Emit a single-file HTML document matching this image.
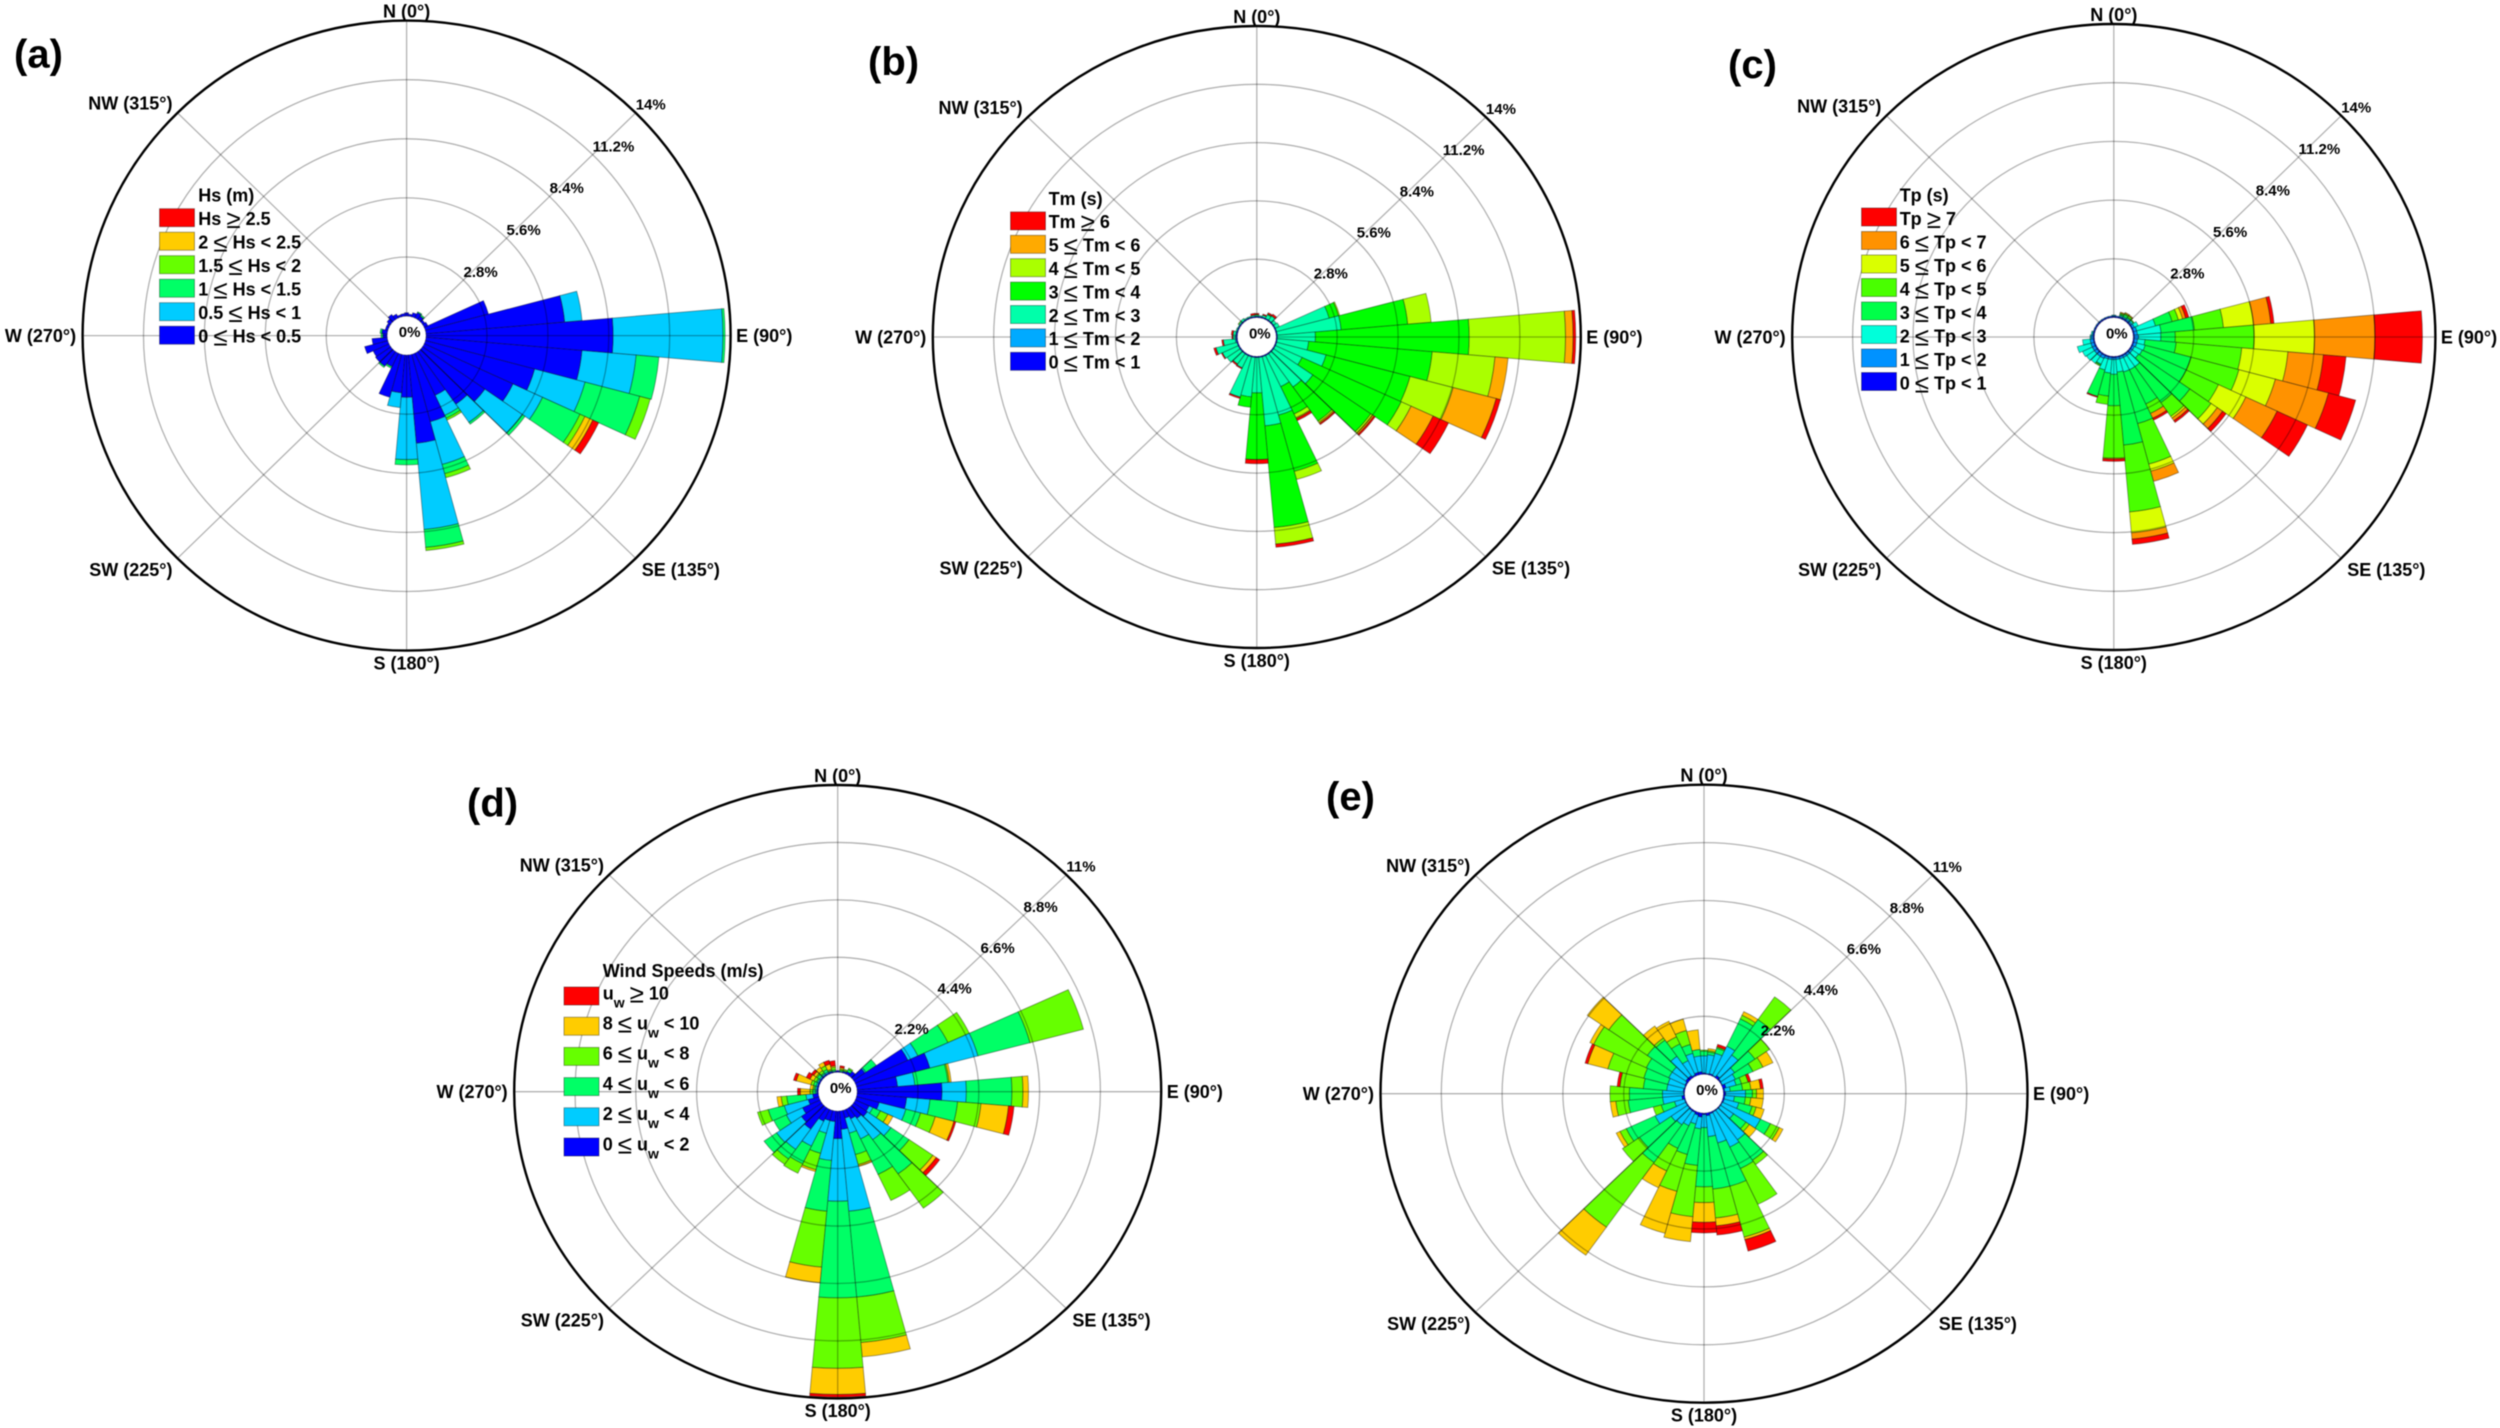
<!DOCTYPE html>
<html lang="en">
<head>
<meta charset="utf-8">
<title>Wave and wind roses</title>
<style>
html,body{margin:0;padding:0;background:#fff;}
svg{display:block;filter:blur(.45px);}
text{font-family:"Liberation Sans",sans-serif;font-weight:bold;fill:#000;white-space:pre;}
</style>
</head>
<body>
<svg id="chart" xmlns="http://www.w3.org/2000/svg" width="2500" height="1428" viewBox="0 0 2500 1428"></svg>
<script>
/* direction bins, degrees clockwise from north */
const directions = [0,10,20,30,40,50,60,70,80,90,100,110,120,130,140,150,160,170,180,190,200,210,220,230,240,250,260,270,280,290,300,310,320,330,340,350];
const compassLabels = ['N (0°)','NW (315°)','W (270°)','SW (225°)','S (180°)','SE (135°)','E (90°)'];
const waveTicks = ['2.8%','5.6%','8.4%','11.2%','14%'];
const waveTickValues = [2.8,5.6,8.4,11.2,14];
const windTicks = ['2.2%','4.4%','6.6%','8.8%','11%'];
const windTickValues = [2.2,4.4,6.6,8.8,11];

/* legend classes, top row first */
const hsClasses = ['Hs ≥ 2.5','2 ≤ Hs < 2.5','1.5 ≤ Hs < 2','1 ≤ Hs < 1.5','0.5 ≤ Hs < 1','0 ≤ Hs < 0.5'];
const tmClasses = ['Tm ≥ 6','5 ≤ Tm < 6','4 ≤ Tm < 5','3 ≤ Tm < 4','2 ≤ Tm < 3','1 ≤ Tm < 2','0 ≤ Tm < 1'];
const tpClasses = ['Tp ≥ 7','6 ≤ Tp < 7','5 ≤ Tp < 6','4 ≤ Tp < 5','3 ≤ Tp < 4','2 ≤ Tp < 3','1 ≤ Tp < 2','0 ≤ Tp < 1'];
const windClasses = ['u_w ≥ 10','8 ≤ u_w < 10','6 ≤ u_w < 8','4 ≤ u_w < 6','2 ≤ u_w < 4','0 ≤ u_w < 2'];

/* cumulative frequency (%) per direction, lowest class first */
const hsCumulative = [
[.16],[.1],[.2],[.28,.28,.32],[.2,.2,.27],[.12],[.18],[3.0],[6.4,7.2],[8.6,13.65,13.75],
[7.2,9.7,10.75],[5.2,7.6,10.2,10.7],[4.5,6.0,7.9,8.15,8.55,8.85],[3.5,5.6,5.75],[3.05,4.1,4.2],[2.2,3.25,3.4,3.5],[3.3,5.4,5.85,6.05],[4.2,8.3,9.15,9.3],
[2.0,4.95,5.2],[1.8,2.5],[2.1],[.7,.7,.78],[.85,.85,.92],[.85],[.8],[1.1],[.7],[.2,.2,.28],
[.25,.25,.33],[.12],[.12],[.2],[.3],[.2],[.1],[.12]];
const tmCumulative = [
[.05,.05,.12,.12,.15,.15,.2],[.05,.05,.1],[.05,.05,.15,.15,.15,.15,.2],[.05,.05,.25,.28,.28,.28,.35],[.05,.05,.3,.3,.3,.3,.4],[.05,.05,.2],[.05,.05,.25],[.05,.05,2.55,3.0,3.05],[.05,.05,3.0,6.07,7.15],[.05,.05,1.8,8.87,13.3,13.65,13.77],
[.05,.05,1.5,7.2,10.1,10.7],[.05,.05,2.4,6.4,8.45,10.5,10.7],[.05,.05,1.4,6.43,6.93,8.05,8.83],[.05,.05,2.25,5.5,5.6,5.68,5.75],[.05,.05,2.0,4.0,4.08,4.14,4.2],[.05,.05,1.7,3.15,3.35,3.4,3.5],[.05,.05,2.95,5.75,6.15],[.05,.05,3.35,8.25,9.05,9.05,9.2],
[.05,.05,1.75,4.95,4.95,4.95,5.15],[.05,.05,1.95,2.45],[.05,.05,2.05,2.05,2.05,2.05,2.12],[.05,.05,.7,.7,.7,.7,.75],[.05,.05,.65,.65,.65,.65,.72],[.05,.05,.78],[.05,.05,.85,.85,.85,.85,.9],[.05,.05,1.05,1.05,1.05,1.05,1.15],[.05,.1,.65,.65,.65,.65,.72],[.05,.1,.2,.2,.2,.2,.25],
[.05,.08,.2,.2,.2,.2,.28],[.05,.05,.1],[.05,.05,.08],[.05,.05,.12,.12,.15],[.05,.05,.15],[.05,.05,.1],[.05,.05,.1],[.05,.05,.12,.12,.12,.12,.2]];
const tpCumulative = [
[.05,.1,.12],[.05,.08],[.05,.1,.15,.2,.25,.27,.3],[.05,.1,.15,.25,.3,.33,.36],[.05,.12,.18,.22,.3,.32,.35],[.05,.12,.2,.22,.25],[.05,.15,.35],[.05,.2,1.1,1.9,2.2,2.4,2.55,2.7],[.05,.2,1.3,2.85,4.2,5.6,6.4,6.55],[.05,.25,1.28,1.95,5.6,8.4,11.2,13.4],
[.05,.2,.55,2.0,5.05,7.2,8.85,9.9],[.05,.2,.6,2.8,5.1,6.85,9.4,10.7],[.05,.15,.55,2.8,4.45,5.85,7.45,9.0],[.05,.15,.5,3.4,4.6,4.95,5.25,5.45],[.05,.15,.8,2.9,3.7,3.8,3.95,4.05],[.05,.15,.8,2.6,3.1,3.1,3.35,3.45],[.05,.15,.8,3.35,5.35,5.7,6.2],[.05,.15,.75,4.25,7.45,8.45,8.75,9.0],
[.05,.15,.85,2.35,4.85,4.85,4.9,5.0],[.05,.15,.8,1.9,2.3],[.05,.15,.7,2.0,2.0,2.0,2.0,2.05],[.05,.2,.5,.55,.6],[.05,.2,.6],[.05,.2,.65],[.05,.2,.7],[.05,.2,.85],[.05,.2,.55],[.05,.15,.2],
[.05,.1,.15],[.05,.08],[.05,.08],[.05,.08],[.05,.08],[.05,.08],[.05,.08],[.05,.08]];
const windCumulative = [
[.06],[.03,.03,.08,.12,.18,.25],[.06,.06,.1,.15],[.1,.1,.2,.25],[.2],[.5,.55,1.0],[2.1,2.5,3.7,4.55],[2.75,4.55,6.5,8.5],[1.47,2.1,3.3,3.35,3.42],[3.07,3.95,5.6,6.0,6.2],
[1.8,2.65,3.65,4.5,5.5,5.7],[.85,1.85,2.4,2.95,3.65,3.72],[.55,.7,1.0,1.3,1.5],[.6,1.65,2.45,3.5,3.65,3.8],[.5,1.5,3.1,4.7],[.4,1.25,2.75,3.85],[.3,.9,1.75,2.15,2.22],[.7,3.85,7.15,8.9,9.45],
[1.05,3.45,7.15,9.85,10.85,10.95],[.4,1.9,3.85,6.0,6.6],[.4,.9,1.7,2.35,2.42],[.5,1.55,2.3,2.7],[1.0,1.95,2.4,2.65],[.9,2.0,2.55],[.7,1.35,1.85],[.4,1.3,1.9,2.3],[.2,.45,1.15,1.35,1.5],[.05,.1,.2,.3,.65,.75],
[.05,.1,.15,.2,.3],[.05,.1,.2,.3,.85,.95],[.05,.1,.15,.25,.4,.55],[.05,.1,.2,.25,.35,.45],[.05,.1,.15,.25,.4],[.05,.1,.2,.35,.5],[.05,.08,.1,.15,.35,.5],[.03,.05,.1,.2,.25,.45]];
const bearingCumulative = [
[.05,.7,.88,.92],[.03,.75,.85,.9,.98],[.05,.85,1.05,1.1,1.1,1.2],[.03,1.25,2.4,2.55,2.7],[.1,1.05,2.7,3.75],[.05,.65,1.55,2.2],[.03,.55,1.25,1.65,2.05],[.12,.5,.7,.95,.95,1.05],[.05,.25,.7,1.0,1.35,1.45],[.08,.8,1.05,1.2,1.45],
[.05,.4,.8,1.0,1.45],[.05,.6,1.1,1.25,1.55],[.03,1.55,1.95,2.3,2.45],[.03,.6,1.15,1.3,1.6],[.03,1.4,2.35,2.55],[.03,1.5,2.4,3.9],[.05,1.2,2.9,4.9,5.0,5.45],[.1,.9,2.9,4.0,4.3,4.65],
[.05,.55,2.8,3.4,4.15,4.55],[.15,.6,2.0,3.95,4.9],[.1,.45,1.65,3.1,4.75],[.05,.6,1.55,2.5,3.2],[.05,.7,2.45,5.45,6.75],[.03,.75,2.15,2.9],[.03,1.25,2.4,2.65,2.8],[.03,.4,.9,1.2],[.1,.8,2.05,2.5,2.7],[.03,.8,2.0,2.7],
[.05,.65,1.5,2.35,2.35,2.45],[.03,.65,1.55,2.9,3.65,3.75],[.05,.7,1.6,3.7,3.85],[.1,.7,1.8,3.5,4.45],[.1,1.0,1.75,1.85,2.4],[.05,.65,1.35,1.65,2.3],[.1,.85,1.2,1.75,2.2],[.1,.7,.95,.95,1.7]];

const svg = document.getElementById('chart');
const NS = 'http://www.w3.org/2000/svg';
const HOLE = 19.5;
const SECTOR_HALF = 5;

function make(tag, parent) {
  const el = document.createElementNS(NS, tag);
  parent.appendChild(el);
  return el;
}
function classColor(i, n) {
  return 'hsl(' + (240 * (1 - i / (n - 1))).toFixed(1) + ',100%,50%)';
}
function radiusX(p, v) { return HOLE + v / p.max * (p.rx - HOLE); }
function radiusY(p, v) { return HOLE + v / p.max * (p.ry - HOLE); }
function polarX(p, deg, v) { return p.cx + Math.sin(deg * Math.PI / 180) * radiusX(p, v); }
function polarY(p, deg, v) { return p.cy - Math.cos(deg * Math.PI / 180) * radiusY(p, v); }

function sectorPath(p, deg, low, high) {
  const a = deg - SECTOR_HALF, b = deg + SECTOR_HALF;
  return 'M' + polarX(p, a, low).toFixed(2) + ' ' + polarY(p, a, low).toFixed(2) +
    'L' + polarX(p, a, high).toFixed(2) + ' ' + polarY(p, a, high).toFixed(2) +
    'A' + radiusX(p, high).toFixed(2) + ' ' + radiusY(p, high).toFixed(2) + ' 0 0 1 ' + polarX(p, b, high).toFixed(2) + ' ' + polarY(p, b, high).toFixed(2) +
    'L' + polarX(p, b, low).toFixed(2) + ' ' + polarY(p, b, low).toFixed(2) +
    'A' + radiusX(p, low).toFixed(2) + ' ' + radiusY(p, low).toFixed(2) + ' 0 0 0 ' + polarX(p, a, low).toFixed(2) + ' ' + polarY(p, a, low).toFixed(2) + 'Z';
}

function addText(parent, str, x, yCenter, size, anchor) {
  const t = make('text', parent);
  t.setAttribute('x', x);
  t.setAttribute('y', (yCenter + size * 0.35).toFixed(1));
  t.setAttribute('font-size', size);
  if (anchor) t.setAttribute('text-anchor', anchor);
  t.textContent = str;
  return t;
}

function legendText(parent, str, x, yCenter) {
  const t = make('text', parent);
  t.setAttribute('x', x);
  t.setAttribute('y', (yCenter + 6.3).toFixed(1));
  t.setAttribute('font-size', 18);
  const tokens = str.split(/(≤|≥|u_w)/);
  let shift = 0;
  tokens.forEach(function (tok) {
    if (!tok) return;
    if (tok === '≤' || tok === '≥') {
      const s = make('tspan', t);
      s.setAttribute('font-size', 26);
      s.setAttribute('style', 'font-weight:normal');
      s.setAttribute('dy', 3 - shift);
      shift = 3;
      s.textContent = tok;
    } else if (tok === 'u_w') {
      const u = make('tspan', t);
      u.setAttribute('dy', -shift);
      shift = 0;
      u.textContent = 'u';
      const w = make('tspan', t);
      w.setAttribute('font-size', 14);
      w.setAttribute('dy', 8);
      shift = 8;
      w.textContent = 'w';
    } else {
      const s = make('tspan', t);
      s.setAttribute('dy', -shift);
      shift = 0;
      s.textContent = tok;
    }
  });
  return t;
}

function drawPanel(p) {
  const g = make('g', svg);
  
  

  /* bars */
  const bars = make('g', g);
  
  
  const n = p.classes.length;
  directions.forEach(function (deg, d) {
    let prev = 0;
    p.values[d].forEach(function (cum, k) {
      if (cum <= prev) return;
      const bar = make('path', bars);
      bar.setAttribute('d', sectorPath(p, deg, prev, cum));
      bar.setAttribute('fill', classColor(k, n));
      bar.setAttribute('stroke', '#000');
      bar.setAttribute('stroke-opacity', '.35');
      bar.setAttribute('stroke-width', '1');
      
      
      prev = cum;
    });
  });

  /* grid */
  const grid = make('g', g);
  
  
  p.tickValues.slice(0, -1).forEach(function (v) {
    const ring = make('ellipse', grid);
    ring.setAttribute('cx', p.cx);
    ring.setAttribute('cy', p.cy);
    ring.setAttribute('rx', radiusX(p, v));
    ring.setAttribute('ry', radiusY(p, v));
    ring.setAttribute('fill', 'none');
    ring.setAttribute('stroke', '#000');
    ring.setAttribute('stroke-opacity', '.3');
    ring.setAttribute('stroke-width', '1.3');
    
    
  });
  [0, 45, 90, 135, 180, 225, 270, 315].forEach(function (deg) {
    const spoke = make('line', grid);
    spoke.setAttribute('x1', polarX(p, deg, 0));
    spoke.setAttribute('y1', polarY(p, deg, 0));
    spoke.setAttribute('x2', polarX(p, deg, p.max));
    spoke.setAttribute('y2', polarY(p, deg, p.max));
    spoke.setAttribute('stroke', '#000');
    spoke.setAttribute('stroke-opacity', '.3');
    spoke.setAttribute('stroke-width', '1.3');
    
    
  });

  const outer = make('ellipse', g);
  outer.setAttribute('cx', p.cx);
  outer.setAttribute('cy', p.cy);
  outer.setAttribute('rx', p.rx);
  outer.setAttribute('ry', p.ry);
  outer.setAttribute('fill', 'none');
  outer.setAttribute('stroke', '#000');
  outer.setAttribute('stroke-width', '2.4');
  
  

  /* compass labels */
  const cx = p.cx, cy = p.cy, rx = p.rx, ry = p.ry, d45x = rx * Math.SQRT1_2, d45y = ry * Math.SQRT1_2;
  const spots = [
    [cx, cy - ry - 9.5, 'middle'],
    [cx - d45x - 5, cy - d45y - 9.5, 'end'],
    [cx - rx - 6.5, cy, 'end'],
    [cx - d45x - 5, cy + d45y + 11.5, 'end'],
    [cx, cy + ry + 12.5, 'middle'],
    [cx + d45x + 6, cy + d45y + 11.5, 'start'],
    [cx + rx + 5.5, cy, 'start']
  ];
  compassLabels.forEach(function (lab, i) {
    const t = addText(g, lab, spots[i][0].toFixed(1), spots[i][1], 18, spots[i][2]);
    
    
  });

  /* radial tick labels */
  p.ticks.forEach(function (lab, i) {
    const v = p.tickValues[i];
    const t = addText(g, lab, polarX(p, 45, v).toFixed(1), polarY(p, 45, v) - 8.5, 15, 'start');
    
    
  });
  const zero = addText(g, '0%', cx + 3, cy - 4, 15, 'middle');
  
  

  /* panel letter */
  const letter = addText(g, p.letter, p.letterX, p.letterY, 40, 'start');
  
  

  /* legend */
  if (p.classes && p.legend) {
    const lg = make('g', g);
    
    
    const L = p.legend;
    const title = addText(lg, L.title, L.textX, L.titleY, 18, 'start');
    
    
    p.classes.forEach(function (lab, i) {
      const yc = L.rowY + i * L.step;
      const box = make('rect', lg);
      box.setAttribute('x', L.boxX);
      box.setAttribute('y', yc - 9 + L.boxShift);
      box.setAttribute('width', 35);
      box.setAttribute('height', 18);
      box.setAttribute('fill', classColor(n - 1 - i, n));
      box.setAttribute('stroke', '#000');
      box.setAttribute('stroke-opacity', '.35');
      box.setAttribute('stroke-width', '1');
      
      
      const t = legendText(lg, lab, L.textX, yc);
      
      
    });
  }
}

const panels = [
  {id:'a', letter:'(a)', letterX:14, letterY:53.6, cx:406.6, cy:335.6, rx:324, ry:315, max:14, ticks:waveTicks, tickValues:waveTickValues, classes:hsClasses, values:hsCumulative,
   legend:{title:'Hs (m)', textX:198.3, titleY:195, rowY:218.7, step:23.5, boxX:159.5, boxShift:-1}},
  {id:'b', letter:'(b)', letterX:868, letterY:61, cx:1256.8, cy:337, rx:324, ry:311, max:14, ticks:waveTicks, tickValues:waveTickValues, classes:tmClasses, values:tmCumulative,
   legend:{title:'Tm (s)', textX:1048.6, titleY:198.7, rowY:221.9, step:23.4, boxX:1010.5, boxShift:-1}},
  {id:'c', letter:'(c)', letterX:1728, letterY:64, cx:2113.8, cy:337, rx:321.6, ry:313, max:14, ticks:waveTicks, tickValues:waveTickValues, classes:tpClasses, values:tpCumulative,
   legend:{title:'Tp (s)', textX:1899.7, titleY:195, rowY:218.7, step:23.5, boxX:1861.5, boxShift:-1.7}},
  {id:'d', letter:'(d)', letterX:467, letterY:802.7, cx:837.7, cy:1091.7, rx:323.5, ry:306.7, max:11, ticks:windTicks, tickValues:windTickValues, classes:windClasses, values:windCumulative,
   legend:{title:'Wind Speeds (m/s)', textX:602.7, titleY:970.7, rowY:993, step:30.2, boxX:564, boxShift:3}},
  {id:'e', letter:'(e)', letterX:1326, letterY:796, cx:1704, cy:1093.7, rx:323.5, ry:309, max:11, ticks:windTicks, tickValues:windTickValues, classes:windClasses, values:bearingCumulative, legend:null}
];
panels.forEach(drawPanel);
</script>
</body>
</html>
